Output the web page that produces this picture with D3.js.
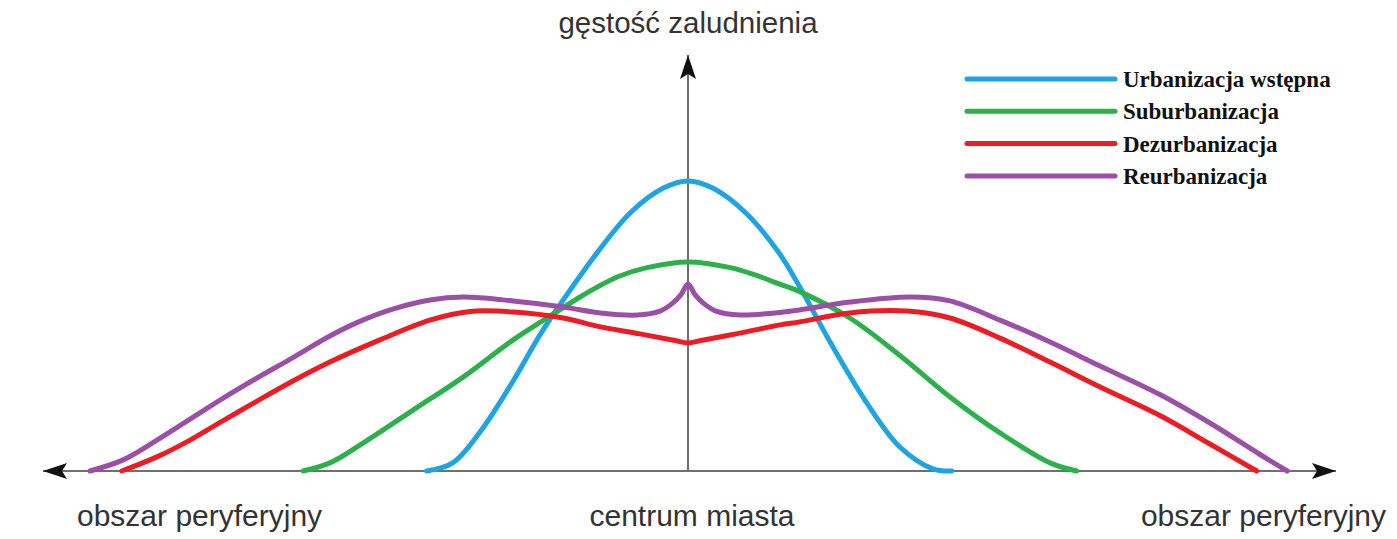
<!DOCTYPE html>
<html>
<head>
<meta charset="utf-8">
<script src="https://cdn.jsdelivr.net/npm/d3@7/dist/d3.min.js"></script>
<style>
  html, body { margin: 0; padding: 0; background: #fff; }
  svg { display: block; }
</style>
</head>
<body>
<svg id="chart" width="1397" height="539"></svg>
<script>
// Distance from the city centre (negative = left periphery) and population density.
const urbanX = [-40.2, -36.2, -32, -26.9, -22.8, -19.2, -14, -8.9, -3.8, 0, 3.8, 8.9, 14, 17.2, 22.3, 27.5, 32.6, 37.7, 40.6];
const urbanY = [0, 2.7, 13, 30, 45.3, 57, 72.7, 86, 94.3, 96.7, 94.3, 86, 72.7, 61.3, 41.3, 22.7, 8, 0.7, 0];

const suburbX = [-59.2, -55.1, -50, -42.3, -34.6, -26.9, -21.7, -16.6, -14, -10.5, -6.3, 0, 6.5, 10.5, 14.2, 17.2, 24.9, 32.6, 40.3, 48, 55.7, 59.8];
const suburbY = [0, 2.7, 9.3, 20.3, 31.3, 43.7, 51, 58, 61.3, 65, 67.8, 69.7, 67.8, 65.2, 62.2, 59.8, 51, 38.5, 24.7, 12.7, 2.7, 0];

const dezurbX = [-87.1, -81.7, -76.6, -71.5, -66.3, -61.2, -55.1, -47.4, -39.7, -33.5, -26.9, -19.2, -14, -7.4, -2, 0, 2, 7.4, 14.2, 17.2, 24.9, 33.7, 40.3, 48, 55.7, 63.4, 72.6, 80.3, 87.5];
const dezurbY = [0, 4.7, 10.3, 16.8, 23.3, 29.5, 36.3, 43.7, 50.3, 53.2, 53, 51, 48.3, 45.7, 43.5, 42.7, 43.5, 45.7, 48.7, 49.7, 52.7, 53.3, 51, 44.3, 36.3, 28, 18.5, 9, 0];

const reurbX = [-92, -86.9, -81.7, -76.6, -71.5, -66.3, -61.2, -55.1, -51.1, -45.8, -39.7, -34.6, -26.9, -19.2, -13.5, -7.8, -4.3, -2.5, -1.1, 0, 1.1, 2.5, 4.3, 8, 13.4, 17.2, 24.9, 34.2, 40.3, 48, 55.7, 63.4, 72.6, 80.3, 88, 92.2];
const reurbY = [0, 3.7, 10.3, 17.3, 24.3, 31, 37.3, 45, 49.3, 53.7, 57, 58, 56.7, 54.7, 52.7, 52, 53.3, 55.7, 58.7, 62.3, 58.7, 55.7, 53.3, 52, 52.7, 53.7, 56.3, 58, 56.7, 50.3, 43, 35, 25.5, 16, 5.5, 0];

const seriesNames = ["Urbanizacja wstępna", "Suburbanizacja", "Dezurbanizacja", "Reurbanizacja"];
const seriesColors = ["#1ea4e2", "#2bb04b", "#ec1c24", "#9b4fa6"];
const seriesX = [urbanX, suburbX, dezurbX, reurbX];
const seriesY = [urbanY, suburbY, dezurbY, reurbY];

const axisTitleY = "gęstość zaludnienia";
const axisCenterLabel = "centrum miasta";
const axisEdgeLabel = "obszar peryferyjny";

const svg = d3.select("#chart");

const x = d3.scaleLinear().domain([-100, 100]).range([38, 1338]);
const y = d3.scaleLinear().domain([0, 100]).range([471, 171]);

// Arrowhead marker
const defs = svg.append("defs");
defs.append("marker")
  .attr("id", "arrow")
  .attr("viewBox", "0 0 24 16")
  .attr("refX", 24).attr("refY", 8)
  .attr("markerWidth", 24).attr("markerHeight", 16)
  .attr("markerUnits", "userSpaceOnUse")
  .attr("orient", "auto")
  .append("path")
  .attr("d", "M0,0 L24,8 L0,16 L5,8 Z")
  .attr("fill", "#111");

// Horizontal axis (arrows both ways from the centre)
const axisColor = "#6f6f6f";
svg.append("line")
  .attr("x1", x(0)).attr("x2", 1336)
  .attr("y1", y(0)).attr("y2", y(0))
  .attr("stroke", axisColor).attr("stroke-width", 2.2)
  .attr("marker-end", "url(#arrow)");
svg.append("line")
  .attr("x1", x(0)).attr("x2", 43)
  .attr("y1", y(0)).attr("y2", y(0))
  .attr("stroke", axisColor).attr("stroke-width", 2.2)
  .attr("marker-end", "url(#arrow)");

// Vertical axis
svg.append("line")
  .attr("x1", x(0)).attr("x2", x(0))
  .attr("y1", y(0)).attr("y2", 55)
  .attr("stroke", axisColor).attr("stroke-width", 2)
  .attr("marker-end", "url(#arrow)");

// Density curves
const line = d3.line()
  .x(d => x(d[0]))
  .y(d => y(d[1]))
  .curve(d3.curveCatmullRom.alpha(0.5));

seriesNames.forEach((name, i) => {
  const pts = seriesX[i].map((v, j) => [v, seriesY[i][j]]);
  svg.append("path")
    .datum(pts)
    .attr("fill", "none")
    .attr("stroke", seriesColors[i])
    .attr("stroke-width", 5)
    .attr("stroke-linecap", "round")
    .attr("stroke-linejoin", "round")
    .attr("d", line);
});

// Axis labels
const labelFont = "'Liberation Sans', Arial, sans-serif";
svg.append("text")
  .attr("x", x(0)).attr("y", 33)
  .attr("text-anchor", "middle")
  .attr("font-family", labelFont)
  .attr("font-size", 29.5)
  .attr("fill", "#333")
  .text(axisTitleY);

svg.append("text")
  .attr("x", x(0) + 4).attr("y", 526)
  .attr("text-anchor", "middle")
  .attr("font-family", labelFont)
  .attr("font-size", 30)
  .attr("fill", "#333")
  .text(axisCenterLabel);

svg.append("text")
  .attr("x", 77).attr("y", 526)
  .attr("text-anchor", "start")
  .attr("font-family", labelFont)
  .attr("font-size", 30)
  .attr("fill", "#333")
  .text(axisEdgeLabel);

svg.append("text")
  .attr("x", 1386).attr("y", 526)
  .attr("text-anchor", "end")
  .attr("font-family", labelFont)
  .attr("font-size", 30)
  .attr("fill", "#333")
  .text(axisEdgeLabel);

// Legend
const legend = svg.append("g").attr("transform", "translate(967,79)");
seriesNames.forEach((name, i) => {
  const g = legend.append("g").attr("transform", `translate(0,${i * 32.3})`);
  g.append("line")
    .attr("x1", 0).attr("x2", 148)
    .attr("y1", 0).attr("y2", 0)
    .attr("stroke", seriesColors[i])
    .attr("stroke-width", 5)
    .attr("stroke-linecap", "round");
  g.append("text")
    .attr("x", 156).attr("y", 8)
    .attr("font-family", "'Liberation Serif', 'Times New Roman', serif")
    .attr("font-weight", "bold")
    .attr("font-size", 23)
    .attr("fill", "#111")
    .text(name);
});
</script>
</body>
</html>
